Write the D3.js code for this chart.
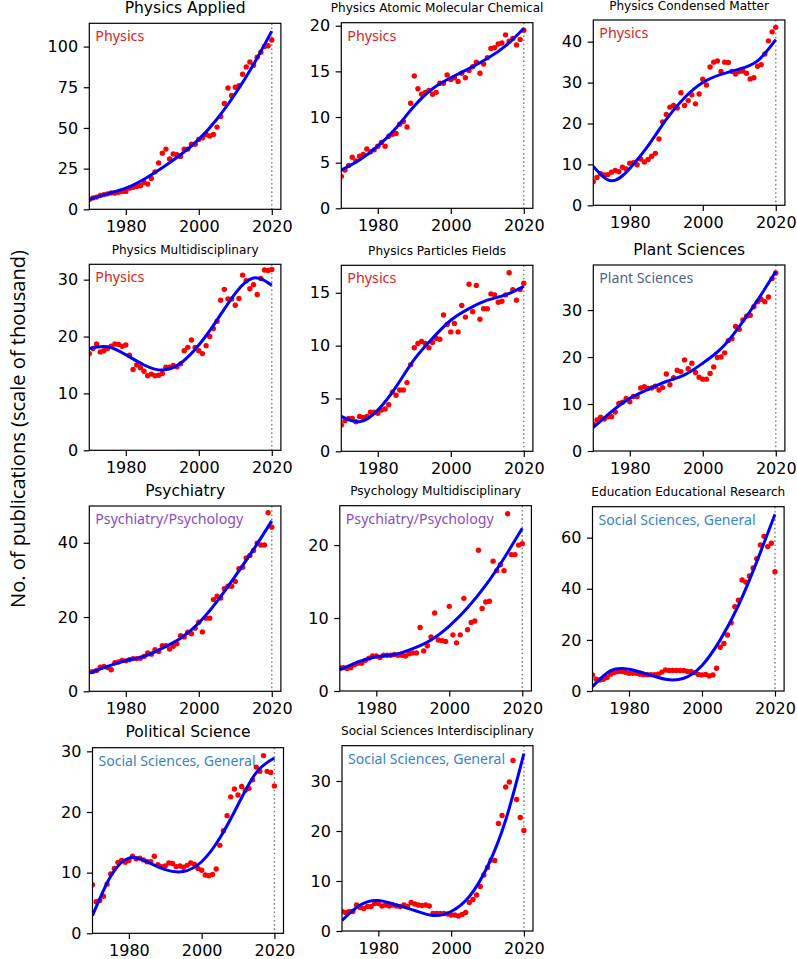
<!DOCTYPE html>
<html><head><meta charset="utf-8">
<script src="https://cdn.jsdelivr.net/npm/d3@7/dist/d3.min.js"></script>
<style>body{margin:0;background:#fff}</style>
</head><body><svg id="c" width="797" height="959" xmlns="http://www.w3.org/2000/svg"></svg>
<script>
// ---------- data ----------
const years = d3.range(1970, 2021);
const fitYears = [1970, 1975, 1980, 1985, 1990, 1995, 2000, 2005, 2010, 2015, 2020];
const xTicks = [1980, 2000, 2020];

const titles = ["Physics Applied", "Physics Atomic Molecular Chemical", "Physics Condensed Matter",
  "Physics Multidisciplinary", "Physics Particles Fields", "Plant Sciences",
  "Psychiatry", "Psychology Multidisciplinary", "Education Educational Research",
  "Political Science", "Social Sciences Interdisciplinary"];
const categories = ["Physics", "Physics", "Physics", "Physics", "Physics", "Plant Sciences",
  "Psychiatry/Psychology", "Psychiatry/Psychology", "Social Sciences, General",
  "Social Sciences, General", "Social Sciences, General"];
const yTicks = [[0, 25, 50, 75, 100], [0, 5, 10, 15, 20], [0, 10, 20, 30, 40],
  [0, 10, 20, 30], [0, 5, 10, 15], [0, 10, 20, 30],
  [0, 20, 40], [0, 10, 20], [0, 20, 40, 60],
  [0, 10, 20, 30], [0, 10, 20, 30]];

const physicsApplied = [6, 7, 7.5, 8.5, 9, 9.5, 10, 10, 10.5, 11, 11, 13, 13.5, 14, 14.5, 16.5, 15.5, 19, 23, 28.5, 34.5, 37, 31, 34, 33.5, 32.5, 37, 37, 40, 40, 43, 44, 46, 45, 46, 50.5, 57, 65, 74.5, 70, 75, 76, 83, 87.5, 90.5, 88.5, 93.5, 96.5, 100, 100.5, 104];
const physicsApplidFit = [6, 9.5, 13, 18.5, 25.5, 33.5, 43, 55.5, 71, 89, 109.5];

const physicsAtomic = [3.5, 4.2, 4.7, 5.6, 5.2, 5.7, 5.9, 6.5, 6.2, 6.4, 6.8, 7.2, 6.8, 7.9, 8.1, 8.2, 9.2, 9.5, 8.9, 11.5, 14.5, 13.1, 12.5, 12.7, 12.9, 12.5, 12.7, 13.7, 13.7, 14.6, 14.1, 14.3, 13.9, 14.8, 14.3, 15.1, 15.5, 16.0, 14.8, 15.8, 16.5, 17.5, 17.6, 18.0, 18.1, 19.0, 18.3, 18.6, 17.9, 18.5, 19.5];
const physicsAtomicFit = [4.2, 5.3, 6.8, 8.8, 11.2, 13.1, 14.3, 15.3, 16.4, 17.8, 19.7];

const physicsCondensed = [5.8, 6.8, 7.7, 7.4, 7.5, 8.1, 8.5, 8.2, 9.3, 8.9, 10.3, 10.4, 9.9, 11.3, 10.6, 11.2, 12.0, 12.7, 16.2, 20.4, 22.2, 24.0, 24.4, 23.8, 27.5, 24.4, 25.6, 27.0, 24.8, 27.2, 30.8, 29.4, 33.8, 35.0, 35.3, 32.7, 35.0, 34.9, 32.7, 32.1, 32.7, 32.8, 32.3, 30.9, 31.2, 34.0, 34.4, 37.0, 40.2, 42.4, 43.5];
const physicsCondensedFit = [9.5, 6.0, 9.0, 14.5, 21, 26.3, 30, 32, 33.3, 35.3, 40.5];

const physicsMulti = [17.0, 17.9, 18.7, 17.3, 17.5, 17.9, 18.3, 18.7, 18.6, 18.3, 18.5, 16.7, 14.2, 15.0, 14.5, 13.9, 13.1, 13.4, 13.1, 13.2, 13.5, 14.6, 14.6, 14.9, 14.7, 15.2, 17.5, 18.1, 19.4, 18.1, 17.5, 17.0, 18.4, 20.0, 21.4, 22.7, 26.4, 28.3, 26.6, 26.6, 25.5, 26.7, 30.8, 29.8, 28.4, 29.1, 27.4, 30.2, 31.7, 31.6, 31.8];
const physicsMultiFit = [17.9, 18.2, 16.8, 15.0, 14.1, 15.3, 18.5, 22.9, 27.6, 30.3, 29.0];

const physicsParticles = [2.5, 2.9, 3.1, 3.1, 2.8, 3.3, 3.2, 3.3, 3.7, 3.7, 3.6, 3.9, 4.0, 4.4, 5.6, 5.3, 5.8, 5.8, 6.5, 8.2, 9.8, 10.2, 10.4, 10.2, 9.8, 10.3, 10.7, 10.6, 12.9, 12.0, 11.3, 12.1, 11.3, 13.8, 12.7, 15.8, 13.2, 15.7, 12.5, 13.5, 13.5, 14.9, 14.8, 14.1, 14.2, 14.8, 16.9, 15.3, 14.3, 15.3, 15.9];
const physicsParticlesFit = [3.3, 2.8, 3.9, 6.1, 8.7, 10.7, 12.4, 13.5, 14.3, 14.8, 15.6];

const plantSciences = [5.7, 6.6, 7.2, 6.8, 7.3, 7.3, 8.3, 10.1, 10.4, 11.2, 10.5, 11.6, 11.6, 13.4, 13.7, 13.3, 13.4, 13.8, 13.0, 13.5, 16.4, 14.1, 15.6, 17.2, 16.9, 19.4, 17.5, 18.7, 16.7, 15.7, 15.3, 15.3, 16.5, 17.9, 19.9, 20.0, 20.9, 23.5, 23.9, 26.5, 25.9, 27.9, 28.7, 28.9, 30.7, 31.8, 32.3, 31.8, 32.8, 36.7, 37.9];
const plantSciencesFit = [5.0, 8.4, 11.2, 13.1, 14.8, 16.2, 18.7, 21.8, 26.5, 32.1, 38.2];

const psychiatry = [5.3, 5.3, 5.6, 6.5, 6.7, 6.4, 5.8, 7.7, 7.9, 8.3, 8.2, 8.5, 8.8, 8.8, 8.9, 9.4, 10.3, 10.0, 11.2, 10.7, 12.3, 12.3, 11.4, 12.1, 12.8, 15.0, 14.6, 15.9, 15.5, 17.0, 18.6, 16.0, 19.7, 19.7, 24.7, 25.6, 25.1, 27.6, 28.3, 28.3, 29.6, 33.0, 33.4, 35.9, 36.6, 37.9, 39.9, 39.4, 39.4, 48.1, 44.2];
const psychiatryFit = [4.9, 6.7, 8.3, 9.4, 11.6, 14.3, 18.4, 24.2, 31, 38.2, 45.9];

const psychologyMulti = [3.2, 3.2, 3.1, 3.2, 3.6, 3.8, 3.8, 4.2, 4.5, 4.8, 4.8, 4.6, 4.9, 4.9, 4.9, 5.0, 4.9, 4.9, 4.8, 5.1, 5.2, 5.2, 8.7, 5.5, 6.2, 7.4, 10.7, 7.0, 6.9, 6.8, 11.6, 7.7, 6.6, 7.7, 12.7, 8.4, 9.4, 9.6, 19.3, 11.3, 12.2, 12.3, 17.8, 16.5, 17.3, 16.5, 24.3, 18.7, 18.7, 20.0, 20.2];
const psychologyMultiFit = [2.9, 4.0, 4.7, 5.0, 5.8, 7.0, 8.9, 11.4, 14.5, 18.2, 22.3];

const education = [6.3, 4.6, 4.3, 4.6, 5.3, 6.6, 7.2, 7.6, 7.6, 7.3, 6.9, 6.9, 6.9, 6.6, 6.4, 6.4, 6.4, 6.4, 6.6, 7.4, 8.2, 8.0, 8.0, 8.0, 8.0, 8.0, 7.6, 7.6, 7.2, 6.5, 6.3, 6.5, 5.9, 6.3, 8.9, 17.1, 18.6, 21.9, 26.7, 33.0, 35.5, 43.4, 42.6, 45.0, 48.1, 51.8, 57.1, 60.5, 56.5, 57.8, 46.7];
const educationFit = [1.7, 8.0, 8.5, 6.6, 4.6, 5.0, 10.0, 20, 33.5, 50.5, 69.1];

const politicalScience = [8.0, 5.2, 5.4, 6.1, 8.1, 9.8, 10.7, 11.7, 12.0, 11.7, 12.0, 12.7, 12.3, 12.4, 12.1, 11.8, 11.8, 12.7, 11.3, 11.0, 11.1, 11.6, 11.5, 11.0, 11.1, 10.9, 11.2, 11.6, 11.4, 10.7, 10.4, 9.6, 9.5, 9.7, 10.6, 14.5, 16.9, 19.4, 22.5, 23.8, 22.8, 24.2, 23.6, 23.9, 25.3, 27.4, 26.7, 29.3, 26.7, 26.5, 24.3];
const politicalScienceFit = [2.9, 9.4, 12.4, 11.8, 10.5, 10.2, 11.8, 15.7, 21.2, 26.5, 28.9];

const socialInter = [3.9, 3.7, 3.9, 3.9, 5.2, 4.7, 4.5, 4.9, 4.9, 5.5, 5.5, 5.0, 5.2, 5.0, 5.2, 5.0, 4.9, 5.2, 4.9, 5.7, 5.4, 5.2, 5.1, 5.2, 5.0, 3.5, 3.5, 3.5, 3.5, 3.4, 3.2, 3.2, 3.0, 3.3, 3.7, 5.7, 6.3, 7.2, 8.9, 11.2, 12.7, 14.2, 14.1, 21.5, 23.1, 28.8, 29.8, 34.1, 26.3, 22.7, 20.1];
const socialInterFit = [2.1, 5.2, 6.1, 5.2, 4.1, 3.1, 3.9, 6.9, 12.9, 22.2, 35.5];

const seriesPoints = [physicsApplied, physicsAtomic, physicsCondensed, physicsMulti, physicsParticles,
  plantSciences, psychiatry, psychologyMulti, education, politicalScience, socialInter];
const seriesFits = [physicsApplidFit, physicsAtomicFit, physicsCondensedFit, physicsMultiFit, physicsParticlesFit,
  plantSciencesFit, psychiatryFit, psychologyMultiFit, educationFit, politicalScienceFit, socialInterFit];

// ---------- layout / style ----------
const categoryColors = {
  "Physics": "#dc2424",
  "Plant Sciences": "#4e6288",
  "Psychiatry/Psychology": "#8a4ec6",
  "Social Sciences, General": "#3a84c8"
};
const catWidths = {"Physics": 49, "Plant Sciences": 94, "Psychiatry/Psychology": 148, "Social Sciences, General": 157};
const layout = [
  {left: 89.3, top: 23.3, bottom: 209.3, width: 191.6, ymax: 114.3, tw: 121},
  {left: 341.3, top: 22.7, bottom: 208.3, width: 191.6, ymax: 20.33, tw: 213},
  {left: 593.3, top: 20.0, bottom: 205.3, width: 191.6, ymax: 45.3, tw: 160},
  {left: 89.3, top: 264.3, bottom: 450.3, width: 191.6, ymax: 32.7, tw: 147},
  {left: 341.3, top: 265.3, bottom: 451.3, width: 191.6, ymax: 17.6, tw: 138},
  {left: 593.3, top: 265.0, bottom: 451.0, width: 191.6, ymax: 39.6, tw: 112},
  {left: 89.3, top: 506.0, bottom: 691.3, width: 191.6, ymax: 49.9, tw: 80},
  {left: 339.8, top: 505.7, bottom: 691.0, width: 191.6, ymax: 25.4, tw: 171},
  {left: 592.5, top: 506.7, bottom: 691.0, width: 191.6, ymax: 72.1, tw: 194},
  {left: 92.5, top: 747.7, bottom: 933.3, width: 191.0, ymax: 30.6, tw: 125},
  {left: 342.0, top: 745.7, bottom: 931.0, width: 191.0, ymax: 37.06, tw: 193}
];

const svg = d3.select("#c");
const defs = svg.append("defs");

function fitFont(sel, baseSize, target) {
  sel.attr("font-size", baseSize);
  const w = sel.node().getComputedTextLength();
  sel.attr("font-size", (baseSize * target / w).toFixed(2));
}

seriesPoints.forEach((pts, i) => {
  const L = layout[i];
  const x = d3.scaleLinear().domain([1970, 2022.5]).range([L.left, L.left + L.width]);
  const y = d3.scaleLinear().domain([0, L.ymax]).range([L.bottom, L.top]);
  const g = svg.append("g");

  defs.append("clipPath").attr("id", "clip" + i).append("rect")
    .attr("x", L.left).attr("y", L.top).attr("width", L.width).attr("height", L.bottom - L.top);
  const plot = g.append("g").attr("clip-path", `url(#clip${i})`);

  plot.append("line")
    .attr("x1", x(2020)).attr("x2", x(2020)).attr("y1", L.top).attr("y2", L.bottom)
    .attr("stroke", "#808080").attr("stroke-width", 1.4).attr("stroke-dasharray", "1.6,2.6");

  plot.selectAll("circle").data(pts).join("circle")
    .attr("cx", (d, j) => x(years[j])).attr("cy", d => y(d)).attr("r", 2.7).attr("fill", "#ff0000");

  const line = d3.line().x((d, j) => x(fitYears[j])).y(d => y(d)).curve(d3.curveNatural);
  plot.append("path").datum(seriesFits[i]).attr("d", line)
    .attr("fill", "none").attr("stroke", "#0000ff").attr("stroke-width", 3);

  // category label
  const cat = categories[i];
  const ct = g.append("text").attr("x", L.left + 6).attr("y", L.top + 18)
    .attr("font-family", "Noto Sans, Open Sans, sans-serif").attr("fill", categoryColors[cat]).text(cat);
  fitFont(ct, 14, catWidths[cat]);

  // axes
  const xa = d3.axisBottom(x).tickValues(xTicks).tickFormat(d3.format("d"))
    .tickSize(5.6).tickPadding(5.6).tickSizeOuter(0);
  const ya = d3.axisLeft(y).tickValues(yTicks[i]).tickFormat(d3.format("d"))
    .tickSize(5.6).tickPadding(5.6).tickSizeOuter(0);
  [g.append("g").attr("transform", `translate(0,${L.bottom})`).call(xa),
   g.append("g").attr("transform", `translate(${L.left},0)`).call(ya)].forEach(a => {
    a.select(".domain").remove();
    a.selectAll("line").attr("stroke", "#000").attr("stroke-width", 1.2);
    a.selectAll("text").attr("font-family", "DejaVu Sans, sans-serif").attr("font-size", 16).attr("fill", "#000");
  });

  g.append("rect").attr("x", L.left).attr("y", L.top).attr("width", L.width).attr("height", L.bottom - L.top)
    .attr("fill", "none").attr("stroke", "#000").attr("stroke-width", 1.2);

  // title
  const t = g.append("text").attr("x", L.left + L.width / 2).attr("y", L.top - 10.5)
    .attr("text-anchor", "middle").attr("font-family", "DejaVu Sans, sans-serif").attr("fill", "#000")
    .text(titles[i]);
  fitFont(t, 16, L.tw);
});

const yl = svg.append("text").attr("transform", "translate(25,429) rotate(-90)")
  .attr("text-anchor", "middle").attr("font-family", "Open Sans, Noto Sans, sans-serif").attr("fill", "#000")
  .text("No. of publications (scale of thousand)");
fitFont(yl, 20, 358);
</script>
</body></html>
